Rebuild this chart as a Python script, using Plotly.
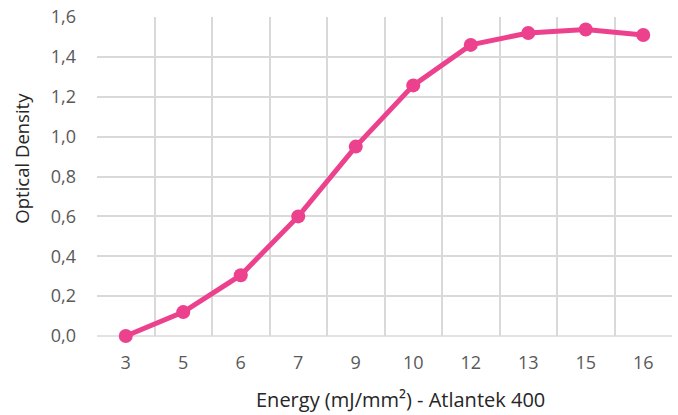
import plotly.graph_objects as go

energy = ["3", "5", "6", "7", "9", "10", "12", "13", "15", "16"]
density = [0.0, 0.12, 0.305, 0.60, 0.95, 1.257, 1.46, 1.52, 1.537, 1.51]

pink = "#EC428D"
grid = "#D9D9D9"
font = "Open Sans"

fig = go.Figure(go.Scatter(
    x=energy, y=density, mode="lines+markers",
    line=dict(color=pink, width=5),
    marker=dict(color=pink, size=14),
    cliponaxis=False,
))

fig.update_layout(
    width=678, height=415,
    margin=dict(l=97, r=6, t=17, b=79, autoexpand=False),
    paper_bgcolor="white", plot_bgcolor="white",
    separators=",.",
    showlegend=False,
    font=dict(family=font, size=18, color="#595959"),
)
fig.update_xaxes(
    type="category", tickson="boundaries", showgrid=True, gridcolor=grid, gridwidth=1.5,
    range=[-0.5, 9.5], ticks="", showline=False, zeroline=False,
    tickfont=dict(size=18, color="#595959"), ticklabelstandoff=14,
)
fig.update_yaxes(
    range=[0, 1.6], dtick=0.2, tickformat=".1f", showgrid=True, gridcolor=grid, gridwidth=1.5,
    zeroline=False, showline=False, ticks="",
    tickfont=dict(size=18, color="#595959"), ticklabelstandoff=20,
)
fig.add_shape(type="line", xref="paper", yref="paper", x0=0, x1=1, y0=0, y1=0,
              line=dict(color=grid, width=1.5), layer="below")

fig.add_annotation(text="Energy (mJ/mm²) - Atlantek 400", xref="paper", yref="paper",
                   x=0.527, y=0, xanchor="center", yanchor="middle", yshift=-63,
                   showarrow=False, font=dict(size=20, color="#262626"))
fig.add_annotation(text="Optical Density", xref="paper", yref="paper",
                   x=0, y=0.556, xanchor="center", yanchor="middle", xshift=-75,
                   textangle=-90, showarrow=False, font=dict(size=18.5, color="#262626"))

fig.write_html("out.html", config={"displayModeBar": False},
               post_script="document.body.style.margin='0';")
